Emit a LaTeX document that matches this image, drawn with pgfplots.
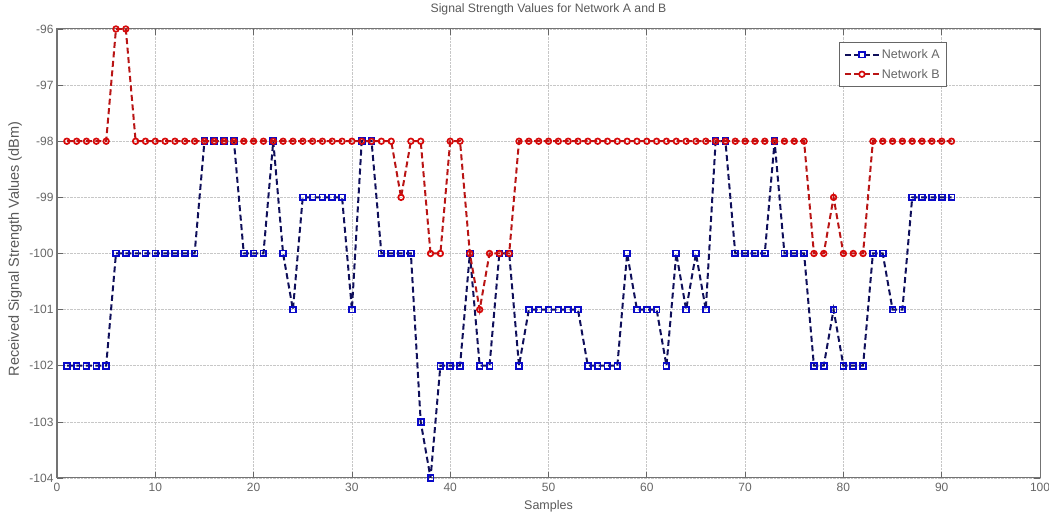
\documentclass[border=0pt]{standalone}
\usepackage{pgfplots}
\pgfplotsset{compat=1.18}
\usepackage{fontspec}
\setmainfont{Liberation Sans}
\definecolor{lineA}{RGB}{15,15,90}
\definecolor{markA}{RGB}{10,10,200}
\definecolor{lineB}{RGB}{185,20,20}
\definecolor{markB}{RGB}{215,10,10}
\begin{document}
\begin{tikzpicture}
\begin{axis}[
  scale only axis, width=983pt, height=449pt,
  xmin=0, xmax=100, ymin=-104, ymax=-96,
  xtick={0,10,...,100}, ytick={-104,-103,...,-96},
  grid=major, grid style={densely dotted, black!22, line width=0.7pt},
  tick align=inside, xtick pos=both, ytick pos=both,
  major tick length=6pt,
  tick style={black!60, line width=0.7pt},
  axis line style={black!55, line width=1.0pt},
  font=\fontsize{12}{14}\selectfont,
  tick label style={font=\fontsize{12}{14}\selectfont, text=black!60},
  xticklabel style={yshift=-2pt},
  /pgf/number format/assume math mode=true,
  title={Signal Strength Values for Network A and B},
  every axis title/.style={at={(axis description cs:0.5,1.0445)}, anchor=center,
    font=\fontsize{12.2}{14}\selectfont, text=black!65},
  xlabel={Samples}, ylabel={Received Signal Strength Values (dBm)},
  every axis x label/.style={at={(axis description cs:0.5,-0.0625)}, anchor=center,
    font=\fontsize{12.5}{14}\selectfont, text=black!65},
  every axis y label/.style={at={(axis description cs:-0.0427,0.51)}, anchor=center,
    rotate=90, font=\fontsize{14.5}{16}\selectfont, text=black!65},
  legend style={at={(0.9054,0.971)}, anchor=north east, draw=black!60,
    line width=0.8pt,
    font=\fontsize{12.5}{14}\selectfont, text=black!60,
    inner xsep=5pt, inner ysep=5pt, row sep=5pt},
  legend image code/.code={
    \draw[mark repeat=2,mark phase=2,#1]
      plot coordinates {(0pt,0pt) (17pt,0pt) (34pt,0pt)};},
  legend cell align=left,
]
\addplot[lineA, line width=2pt, dash pattern=on 6pt off 3.5pt,
  mark=square, mark size=2.9pt,
  mark options={solid, draw=markA, line width=1.8pt}]
coordinates {
(1,-102)(2,-102)(3,-102)(4,-102)(5,-102)
(6,-100)(7,-100)(8,-100)(9,-100)(10,-100)(11,-100)(12,-100)(13,-100)(14,-100)
(15,-98)(16,-98)(17,-98)(18,-98)
(19,-100)(20,-100)(21,-100)
(22,-98)(23,-100)(24,-101)
(25,-99)(26,-99)(27,-99)(28,-99)(29,-99)
(30,-101)(31,-98)(32,-98)
(33,-100)(34,-100)(35,-100)(36,-100)
(37,-103)(38,-104)
(39,-102)(40,-102)(41,-102)
(42,-100)(43,-102)(44,-102)(45,-100)(46,-100)(47,-102)
(48,-101)(49,-101)(50,-101)(51,-101)(52,-101)(53,-101)
(54,-102)(55,-102)(56,-102)(57,-102)
(58,-100)(59,-101)(60,-101)(61,-101)(62,-102)
(63,-100)(64,-101)(65,-100)(66,-101)
(67,-98)(68,-98)
(69,-100)(70,-100)(71,-100)(72,-100)
(73,-98)(74,-100)(75,-100)(76,-100)
(77,-102)(78,-102)(79,-101)(80,-102)(81,-102)(82,-102)
(83,-100)(84,-100)(85,-101)(86,-101)
(87,-99)(88,-99)(89,-99)(90,-99)(91,-99)
};
\addlegendentry{Network A}
\addplot[lineB, line width=2pt, dash pattern=on 6pt off 3.5pt,
  mark=o, mark size=2.8pt,
  mark options={solid, draw=markB, line width=1.7pt}]
coordinates {
(1,-98)(2,-98)(3,-98)(4,-98)(5,-98)
(6,-96)(7,-96)
(8,-98)(9,-98)(10,-98)(11,-98)(12,-98)(13,-98)(14,-98)(15,-98)(16,-98)(17,-98)
(18,-98)(19,-98)(20,-98)(21,-98)(22,-98)(23,-98)(24,-98)(25,-98)(26,-98)(27,-98)
(28,-98)(29,-98)(30,-98)(31,-98)(32,-98)(33,-98)(34,-98)
(35,-99)(36,-98)(37,-98)(38,-100)(39,-100)(40,-98)(41,-98)
(42,-100)(43,-101)(44,-100)(45,-100)(46,-100)
(47,-98)(48,-98)(49,-98)(50,-98)(51,-98)(52,-98)(53,-98)(54,-98)(55,-98)(56,-98)
(57,-98)(58,-98)(59,-98)(60,-98)(61,-98)(62,-98)(63,-98)(64,-98)(65,-98)(66,-98)
(67,-98)(68,-98)(69,-98)(70,-98)(71,-98)(72,-98)(73,-98)(74,-98)(75,-98)(76,-98)
(77,-100)(78,-100)(79,-99)(80,-100)(81,-100)(82,-100)
(83,-98)(84,-98)(85,-98)(86,-98)(87,-98)(88,-98)(89,-98)(90,-98)(91,-98)
};
\addlegendentry{Network B}
\end{axis}
\pgfresetboundingbox
\path ([shift={(-57pt,-37pt)}]current axis.south west) rectangle ([shift={(9pt,29pt)}]current axis.north east);
\end{tikzpicture}
\end{document}
